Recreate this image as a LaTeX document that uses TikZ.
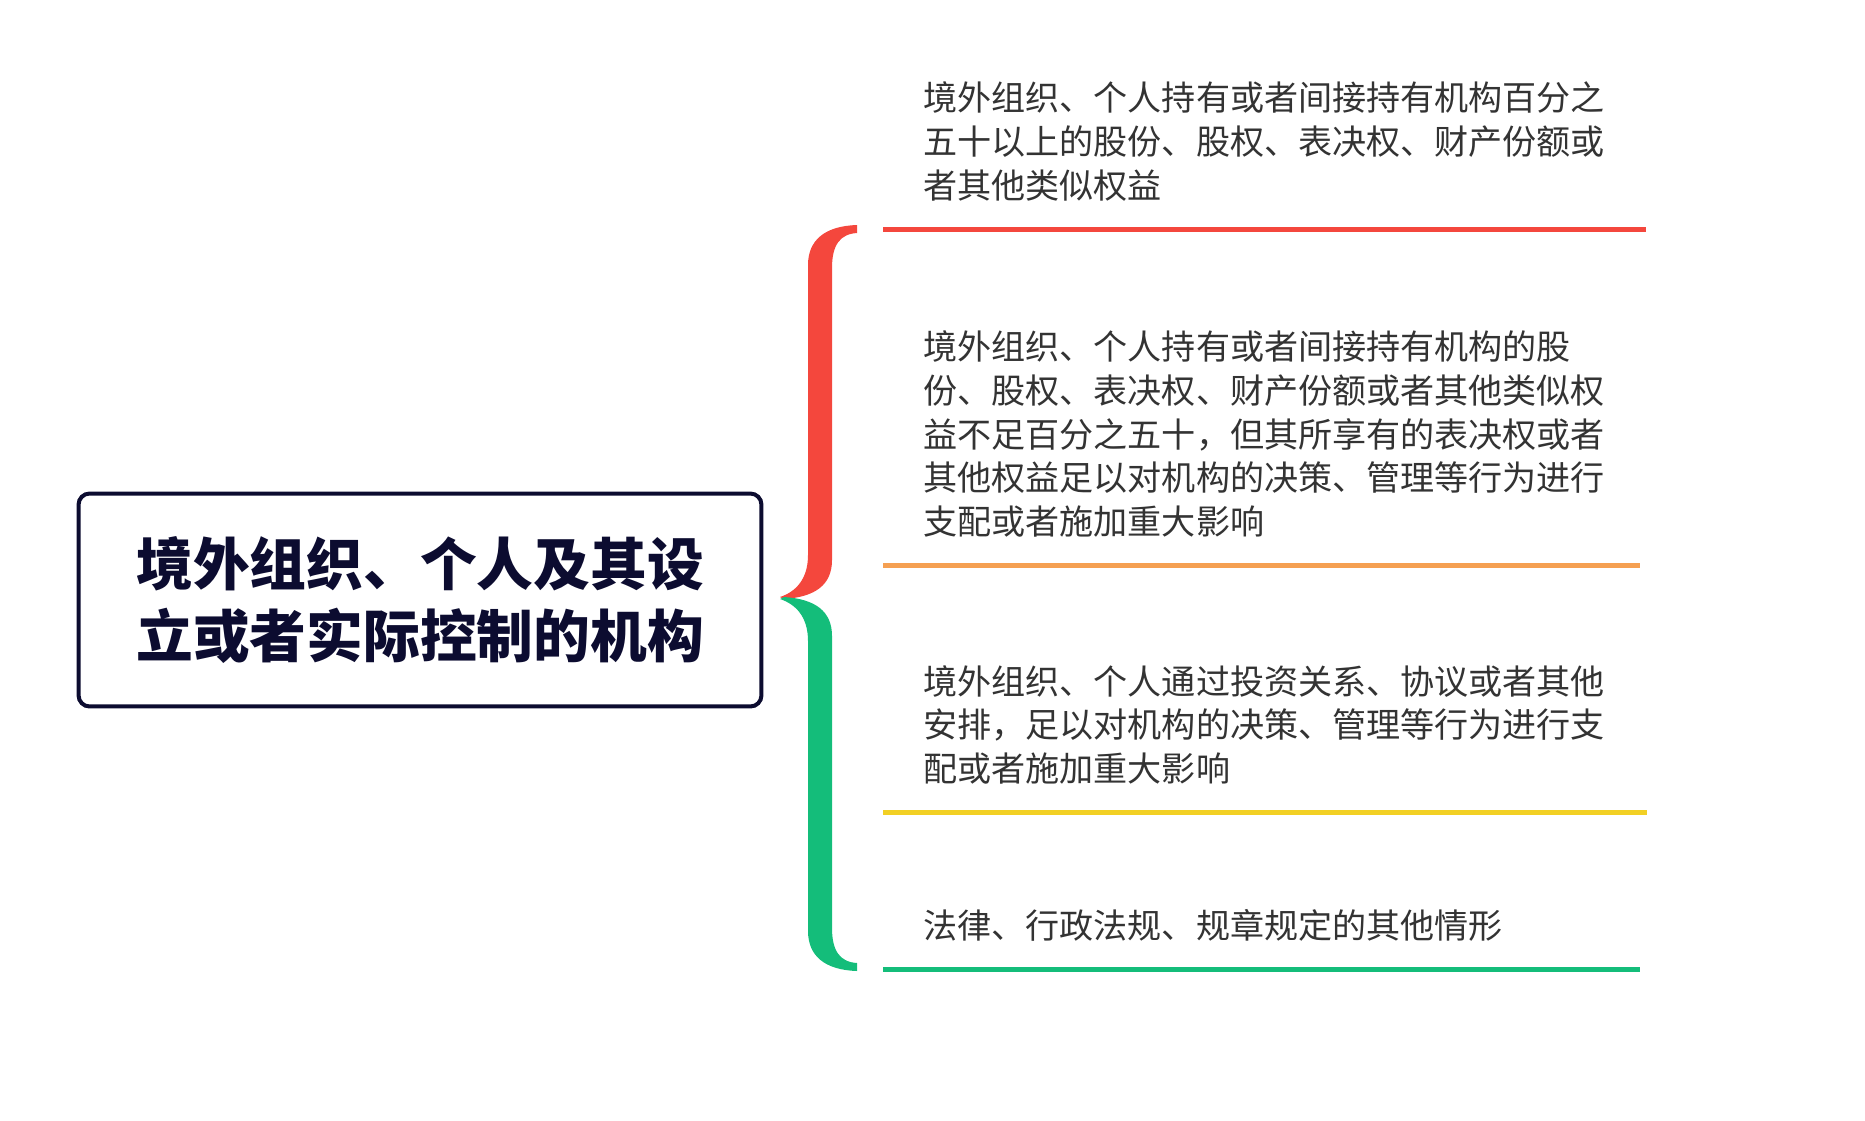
\documentclass[tikz,border=0pt]{standalone}
\usepackage{fontspec}
\setmainfont{Noto Sans CJK SC}
\usetikzlibrary{positioning}

\definecolor{bred}{HTML}{F4473D}
\definecolor{borange}{HTML}{F5A052}
\definecolor{byellow}{HTML}{F2D024}
\definecolor{bgreen}{HTML}{14BD7A}
\definecolor{navy}{HTML}{0C0C30}
\definecolor{txtgray}{HTML}{333333}

\tikzset{
    desc/.style={font=\fontsize{19.4pt}{25pt}\selectfont, text=txtgray, align=left, inner sep=0pt},
    rule/.style={line width=0.1cm},
    mainbox/.style={draw=navy, line width=0.08cm, rounded corners=0.22cm, minimum width=13.66cm, minimum height=4.26cm, align=center, text=navy, font=\fontsize{32.3pt}{41.5pt}\selectfont\bfseries}
}

\begin{document}
\begin{tikzpicture}[x=0.02cm,y=-0.02cm]
    \useasboundingbox (0,0) rectangle (1865,1120);

    % Kasten links
    \node[mainbox] (org) at (420,600) {境外组织、个人及其设\\立或者实际控制的机构};

    % Klammer
    \fill[bred] (857,225) .. controls (825,226) and (808,240) .. (808,265) -- (808,555)
        .. controls (808,580) and (795,592) .. (780,597) -- (784,599)
        .. controls (815,597) and (832,585) .. (832,560) -- (832,268)
        .. controls (832,245) and (840,234) .. (857,233) -- cycle;
    \fill[bgreen] (857,971) .. controls (825,970) and (808,956) .. (808,931) -- (808,641)
        .. controls (808,616) and (795,604) .. (780,599) -- (784,597)
        .. controls (815,599) and (832,611) .. (832,636) -- (832,928)
        .. controls (832,951) and (840,962) .. (857,963) -- cycle;

    % Linien
    \coordinate (r1s) at (883,229);
    \coordinate (r1e) at (1646,229);
    \coordinate (r2s) at (883,565);
    \coordinate (r2e) at (1640,565);
    \coordinate (r3s) at (883,812);
    \coordinate (r3e) at (1647,812);
    \coordinate (r4s) at (883,969);
    \coordinate (r4e) at (1640,969);
    \draw[rule, bred] (r1s) -- (r1e);
    \draw[rule, borange] (r2s) -- (r2e);
    \draw[rule, byellow] (r3s) -- (r3e);
    \draw[rule, bgreen] (r4s) -- (r4e);

    % Texte
    \node[desc, above right=0.54cm and 0.8cm of r1s] (c1) {境外组织、个人持有或者间接持有机构百分之\\五十以上的股份、股权、表决权、财产份额或\\者其他类似权益};
    \node[desc, above right=0.54cm and 0.8cm of r2s] (c2) {境外组织、个人持有或者间接持有机构的股\\份、股权、表决权、财产份额或者其他类似权\\益不足百分之五十，但其所享有的表决权或者\\其他权益足以对机构的决策、管理等行为进行\\支配或者施加重大影响};
    \node[desc, above right=0.54cm and 0.8cm of r3s] (c3) {境外组织、个人通过投资关系、协议或者其他\\安排，足以对机构的决策、管理等行为进行支\\配或者施加重大影响};
    \node[desc, above right=0.54cm and 0.8cm of r4s] (c4) {法律、行政法规、规章规定的其他情形};
\end{tikzpicture}
\end{document}
